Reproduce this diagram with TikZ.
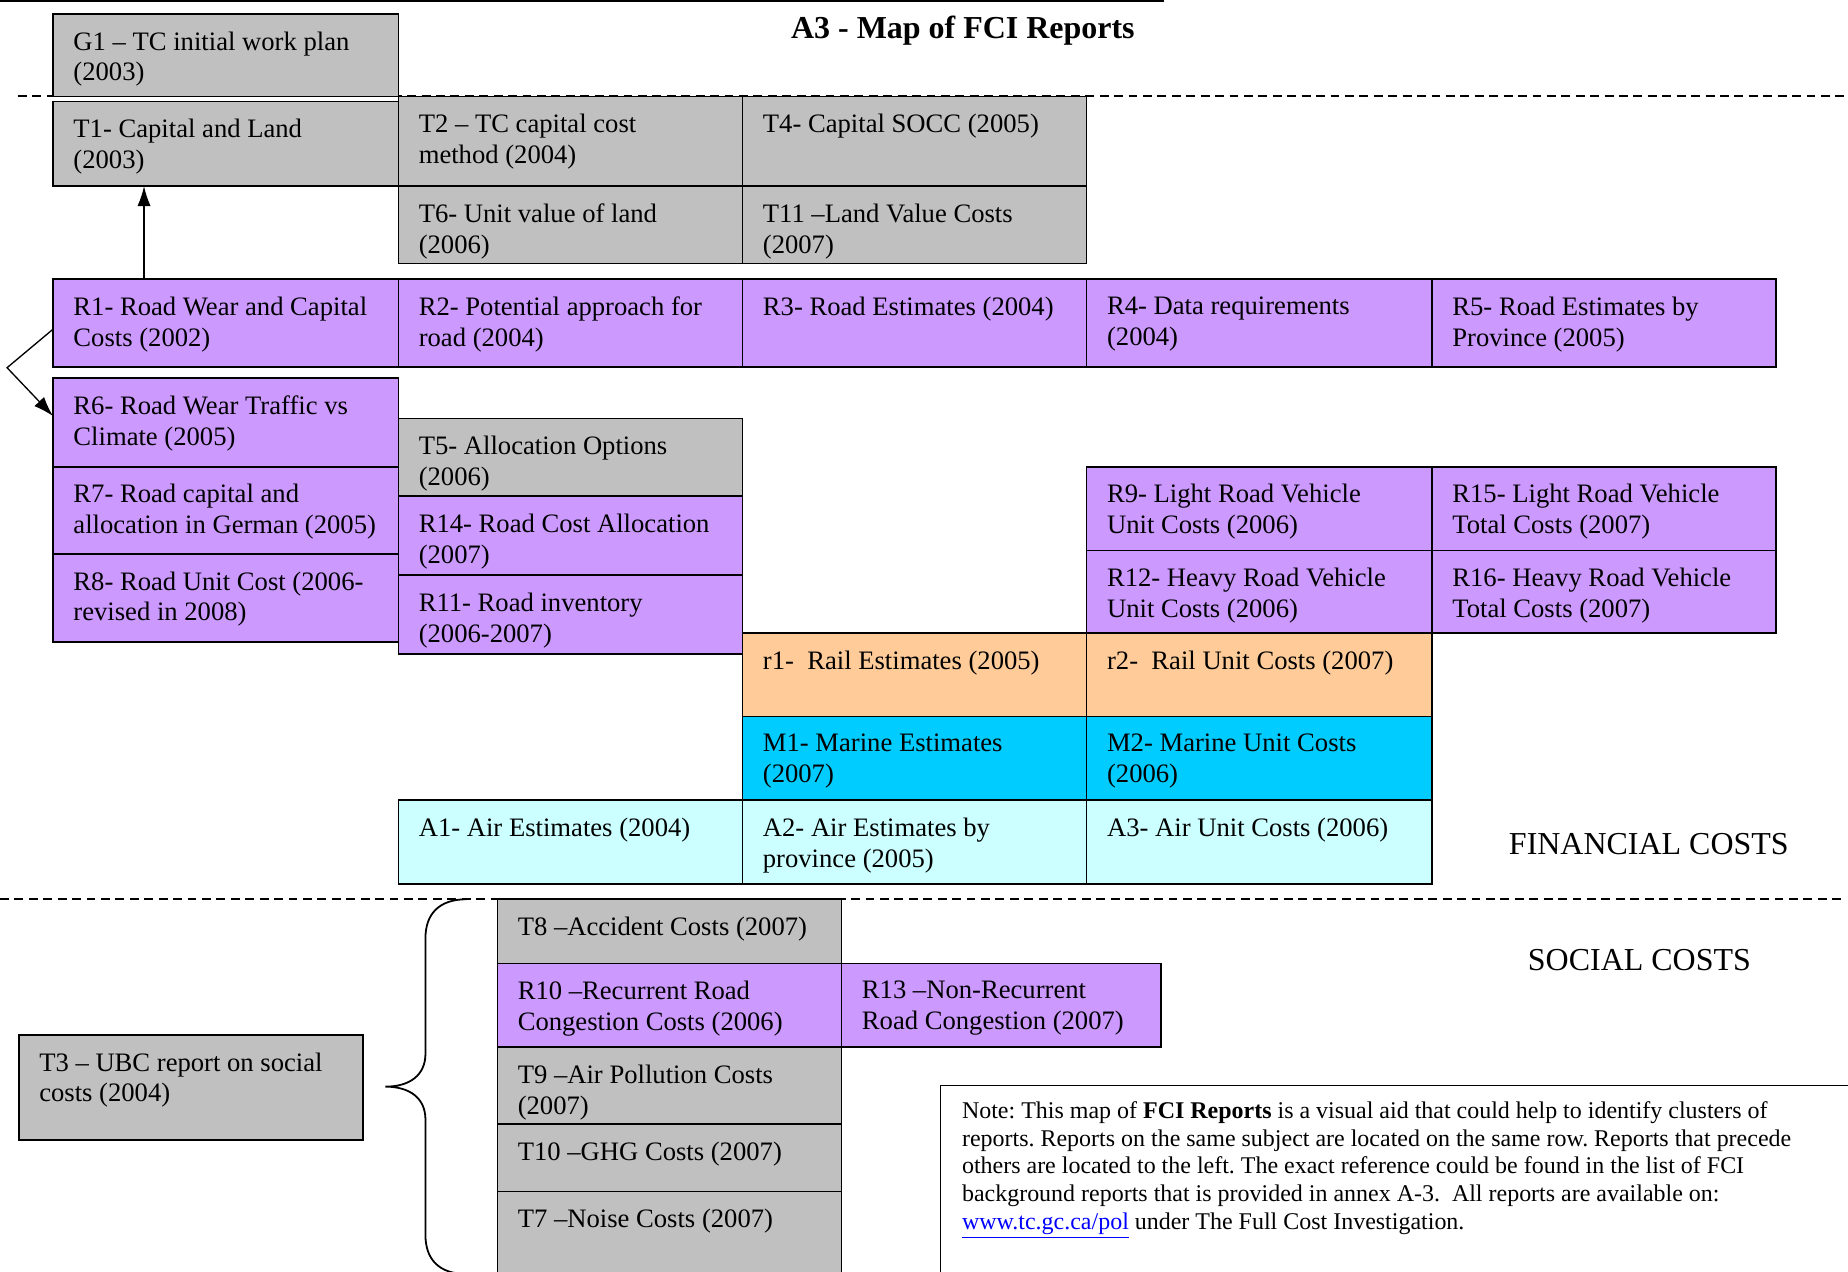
\documentclass[tikz,border=0pt]{standalone}
\usepackage{fontspec}
\setmainfont{Liberation Serif}
\usepackage{xcolor}
\usetikzlibrary{arrows.meta}
\definecolor{tcgrey}{HTML}{C0C0C0}
\definecolor{roadc}{HTML}{CC99FF}
\definecolor{railc}{HTML}{FFCC99}
\definecolor{marinec}{HTML}{00CCFF}
\definecolor{airc}{HTML}{CCFFFF}
\frenchspacing
\tikzset{
    box/.style={draw=black, line width=0.75pt, anchor=north west, inner sep=0pt, outer sep=0pt},
    boxtext/.style={anchor=north west, align=left, inner xsep=9pt, inner ysep=7.8pt, font=\fontsize{12}{13.8}\selectfont},
    notetext/.style={anchor=north west, align=left, inner xsep=9.5pt, inner ysep=7pt, font=\fontsize{10.8}{12.5}\selectfont},
    bigtext/.style={font=\fontsize{14.4}{16}\selectfont},
    titletext/.style={font=\fontsize{14.4}{16}\selectfont\bfseries},
    link/.style={-{Latex[length=9pt,width=6pt]}, line width=0.6pt},
    sepline/.style={line width=0.8pt, dash pattern=on 4pt off 2.5pt},
    pics/report/.style args={#1/#2/#3/#4}{
    code = {
        \node[box, fill=#1, minimum width=\fpeval{#2*0.531}pt, minimum height=\fpeval{#3*0.531}pt] (-b) at (0,0) {};
        \node[boxtext] (-t) at (-b.north west) {#4};
    }}
}
\begin{document}
\begin{tikzpicture}[x=0.531pt, y=-0.531pt]
        \useasboundingbox (0,0) rectangle (1568,1079);
        \clip (0,0) rectangle (1568,1079);

        % frame lines
        \draw[line width=0.8pt] (0,1) -- (988,1);
        \draw[sepline] (15,81.5) -- (1568,81.5);
        \draw[sepline] (0,763) -- (1562,763);
        \node[titletext] (title) at (817,26) {A3 - Map of FCI Reports};

        % general and capital
        \pic (G1) at (45,12) {report=tcgrey/293/70/{G1 – TC initial work plan\\(2003)}};
        \pic (T1) at (45,86) {report=tcgrey/293/72/{T1- Capital and Land\\(2003)}};
        \pic (T2) at (338,82) {report=tcgrey/292/76/{T2 – TC capital cost\\method (2004)}};
        \pic (T4) at (630,82) {report=tcgrey/292/76/{T4- Capital SOCC (2005)}};
        \pic (T6) at (338,158) {report=tcgrey/292/65.5/{T6- Unit value of land\\(2006)}};
        \pic (T11) at (630,158) {report=tcgrey/292/65.5/{T11 –Land Value Costs\\(2007)}};

        % road
        \pic (R1) at (45,237) {report=roadc/293/74.5/{R1- Road Wear and Capital\\Costs (2002)}};
        \pic (R2) at (338,237) {report=roadc/292/74.5/{R2- Potential approach for\\road (2004)}};
        \pic (R3) at (630,237) {report=roadc/292/74.5/{R3- Road Estimates (2004)}};
        \pic (R4) at (922,237) {report=roadc/293/74.5/{R4- Data requirements\\(2004)}};
        \pic (R5) at (1215,237) {report=roadc/292/74.5/{R5- Road Estimates by\\Province (2005)}};
        \pic (R6) at (45,321) {report=roadc/293/75/{R6- Road Wear Traffic vs\\Climate (2005)}};
        \pic (R7) at (45,396) {report=roadc/293/74/{R7- Road capital and\\allocation in German (2005)}};
        \pic (R8) at (45,470) {report=roadc/293/75/{R8- Road Unit Cost (2006-\\revised in 2008)}};
        \pic (T5) at (338,355) {report=tcgrey/292/66/{T5- Allocation Options\\(2006)}};
        \pic (R14) at (338,421) {report=roadc/292/67/{R14- Road Cost Allocation\\(2007)}};
        \pic (R11) at (338,488) {report=roadc/292/67/{R11- Road inventory\\(2006-2007)}};
        \pic (R9) at (922,396) {report=roadc/293/71/{R9- Light Road Vehicle\\Unit Costs (2006)}};
        \pic (R15) at (1215,396) {report=roadc/292/71/{R15- Light Road Vehicle\\Total Costs (2007)}};
        \pic (R12) at (922,467) {report=roadc/293/70/{R12- Heavy Road Vehicle\\Unit Costs (2006)}};
        \pic (R16) at (1215,467) {report=roadc/292/70/{R16- Heavy Road Vehicle\\Total Costs (2007)}};

        % rail, marine, air
        \pic (r1) at (630,537) {report=railc/292/71/{r1-~ Rail Estimates (2005)}};
        \pic (r2) at (922,537) {report=railc/293/71/{r2-~ Rail Unit Costs (2007)}};
        \pic (M1) at (630,608) {report=marinec/292/71/{M1- Marine Estimates\\(2007)}};
        \pic (M2) at (922,608) {report=marinec/293/71/{M2- Marine Unit Costs\\(2006)}};
        \pic (A1) at (338,679) {report=airc/292/71/{A1- Air Estimates (2004)}};
        \pic (A2) at (630,679) {report=airc/292/71/{A2- Air Estimates by\\province (2005)}};
        \pic (A3) at (922,679) {report=airc/293/71/{A3- Air Unit Costs (2006)}};

        \draw[link] ([xshift=41pt]R1-b.north west) -- ([xshift=41pt]T1-b.south west);
        \coordinate (bend) at (6,312);
        \draw[link] ([yshift=-2.7pt]R1-b.west) -- (bend) -- ([yshift=2.9pt]R6-b.west);

        \node[bigtext] (fin) at (1399,716) {FINANCIAL COSTS};

        % social
        \node[bigtext] (soc) at (1391,815) {SOCIAL COSTS};
        \pic (T3) at (16,878) {report=tcgrey/292/89/{T3 – UBC report on social\\costs (2004)}};
        \pic (T8) at (422,763) {report=tcgrey/292/54.5/{T8 –Accident Costs (2007)}};
        \pic (R10) at (422,817.5) {report=roadc/292/71/{R10 –Recurrent Road\\Congestion Costs (2006)}};
        \pic (R13) at (714,817.5) {report=roadc/271/71/{R13 –Non-Recurrent\\Road Congestion (2007)}};
        \pic (T9) at (422,888.5) {report=tcgrey/292/65/{T9 –Air Pollution Costs\\(2007)}};
        \pic (T10) at (422,953.5) {report=tcgrey/292/57.5/{T10 –GHG Costs (2007)}};
        \pic (T7) at (422,1011) {report=tcgrey/292/80/{T7 –Noise Costs (2007)}};
        \draw[line width=0.8pt] (396,763) .. controls (372,763) and (361,776) .. (361,796) -- (361,894)
            .. controls (361,912) and (348,922) .. (327,922) .. controls (348,922) and (361,932) .. (361,950)
            -- (361,1048) .. controls (361,1068) and (372,1081) .. (396,1081);

        % note
        \node[box, fill=white, line width=0.6pt, minimum width=\fpeval{800*0.531}pt, minimum height=\fpeval{170*0.531}pt] (note) at (798,921) {};
        \node[notetext] (notetxt) at (note.north west) {Note: This map of \textbf{FCI Reports} is a visual aid that could help to identify clusters of\\reports. Reports on the same subject are located on the same row. Reports that precede\\others are located to the left. The exact reference could be found in the list of FCI\\background reports that is provided in annex A-3.\ \ All reports are available on:\\\textcolor{blue}{\underline{www.tc.gc.ca/pol}} under The Full Cost Investigation.};

\end{tikzpicture}
\end{document}
